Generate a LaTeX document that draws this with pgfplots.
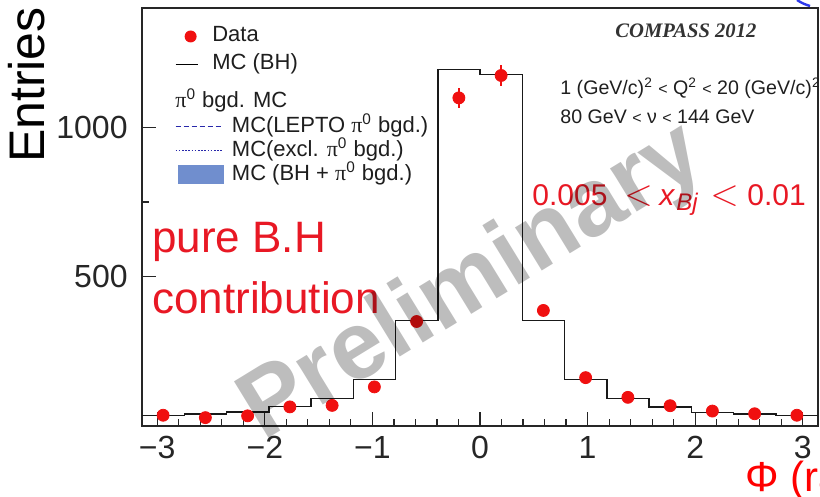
\documentclass[border=0pt]{standalone}
\usepackage{pgfplots}
\pgfplotsset{compat=1.18}
\usepackage{fontspec}
\setmainfont{Liberation Sans}
\newfontfamily\serif{Liberation Serif}
\definecolor{dred}{RGB}{240,16,16}
\definecolor{tred}{RGB}{232,24,36}
\definecolor{lblue}{RGB}{40,40,170}
\definecolor{fblue}{RGB}{112,142,206}
\definecolor{txt}{RGB}{30,30,30}
\newcommand{\piz}{{\serif π}\textsuperscript{0}}
\newcommand{\lt}{\scalebox{1.3}[1.3]{$<$}}

\begin{document}
\begin{tikzpicture}
\useasboundingbox (0pt,0pt) rectangle (410pt,-248.5pt);
\begin{scope}
\clip (0pt,0pt) rectangle (410pt,-248.5pt);
\begin{axis}[
  at={(71pt,-213pt)}, anchor=south west,
  width=338pt, height=209pt, scale only axis,
  xmin=-3.14159, xmax=3.14159, ymin=0, ymax=1400,
  axis line style={line width=0.75pt, black!85},
  tick pos=left, tick align=inside,
  xtick={-3,-2,-1,0,1,2,3},
  xticklabels={−3,−2,−1,0,1,2,3},
  ytick={500,1000}, yticklabels={500,1000},
  minor x tick num=4, minor y tick num=1,
  major tick length=7pt, minor tick length=3.5pt,
  tick style={line width=0.6pt, black!85},
  ticklabel style={font=\fontsize{16}{16}\selectfont, text=black!85},
  xticklabel style={inner sep=0pt, yshift=-5pt, anchor=north},
  yticklabel style={inner sep=0pt, xshift=-7pt, anchor=east},
  legend cell align=left,
  legend style={at={(axis description cs:0.0487,0.957)}, anchor=north west,
    draw=none, fill=none, inner sep=0pt, outer sep=0pt,
    font=\fontsize{11}{11}\selectfont, text=txt,
    row sep=3.5pt, column sep=7pt,
    nodes={inner sep=0pt, text height=8pt, text depth=2.5pt}},
]
\addlegendimage{legend image code/.code={\path[draw=none, fill=none] (0pt,0pt) -- (11pt,0pt); \fill[dred, draw=none] (7.5pt,0pt) circle (3pt);}}
\addlegendentry{Data}
\addlegendimage{legend image code/.code={\draw[black, line width=0.7pt] (0pt,0pt) -- (11pt,0pt);}}
\addlegendentry{MC (BH)}

% MC (BH) histogram, bin edges -pi ... pi (16 bins)
\addplot[black!90, line width=0.75pt, const plot, forget plot] coordinates {
(-3.14159,36) (-2.74889,41) (-2.35619,47) (-1.96350,65) (-1.57080,92)
(-1.17810,156) (-0.78540,354) (-0.39270,1194) (0,1177) (0.39270,354)
(0.78540,156) (1.17810,92) (1.57080,64) (1.96350,46) (2.35619,40)
(2.74889,35) (3.14159,35)};

% Data
\addplot[only marks, mark=*, mark size=3pt, color=dred, forget plot,
  error bars/.cd, y dir=both, y explicit, error mark=none,
  error bar style={line width=0.8pt, dred}]
  table[x=x, y=y, y error=e] {
x y e
-2.94524 36 6
-2.55254 28 5
-2.15984 34 6
-1.76715 64 8
-1.37445 69 8
-0.98175 131 11
-0.58905 350 19
-0.19635 1099 33
0.19635 1174 34
0.58905 387 20
0.98175 162 13
1.37445 96 10
1.76715 68 8
2.15984 50 7
2.55254 41 6
2.94524 36 6
};
\end{axis}

% second legend (pi0 background MC)
\begin{axis}[
  at={(71pt,-213pt)}, anchor=south west,
  width=338pt, height=209pt, scale only axis,
  xmin=0, xmax=1, ymin=0, ymax=1, hide axis,
  legend cell align=left,
  legend style={at={(axis description cs:0.0487,0.7416)}, anchor=north west,
    draw=none, fill=none, inner sep=0pt, outer sep=0pt,
    font=\fontsize{11}{11}\selectfont, text=txt,
    row sep=1.5pt, column sep=4pt,
    nodes={inner sep=0pt, text height=8pt, text depth=2.5pt}},
]
\addlegendimage{legend image code/.code={\draw[lblue, line width=0.6pt, dash pattern=on 2.5pt off 1.5pt] (0pt,0pt) -- (23.5pt,0pt);}}
\addlegendentry{MC(LEPTO \piz{} bgd.)}
\addlegendimage{legend image code/.code={\draw[lblue, line width=0.6pt, dash pattern=on 0.8pt off 0.8pt] (0pt,0pt) -- (23.5pt,0pt);}}
\addlegendentry{MC(excl. \piz{} bgd.)}
\addlegendimage{legend image code/.code={\fill[fblue] (1.5pt,-4.5pt) rectangle (24pt,4.5pt);}}
\addlegendentry{MC (BH + \piz{} bgd.)}
\end{axis}

\begin{scope}[x=0.5pt, y=-0.5pt]
\node[anchor=west, inner sep=0pt, font=\fontsize{11}{11}\selectfont, text=txt] at (175,100) {\piz{} bgd. MC};
\node[rotate=90, inner sep=0pt, font=\fontsize{25}{25}\selectfont] at (27,85) {Entries};
\node[anchor=base west, inner sep=0pt, font={\serif\bfseries\itshape\fontsize{10.3}{10.3}\selectfont}, text=black!80] at (615,38) {COMPASS 2012};
\node[anchor=base west, inner sep=0pt, font=\fontsize{9.8}{10}\selectfont, text=txt] at (560,95) {1 (GeV/c)\textsuperscript{2} {\fontsize{8}{8}\selectfont<} Q\textsuperscript{2} {\fontsize{8}{8}\selectfont<} 20 (GeV/c)\textsuperscript{2}};
\node[anchor=base west, inner sep=0pt, font=\fontsize{9.8}{10}\selectfont, text=txt] at (560,124) {80 GeV {\fontsize{8}{8}\selectfont<} ν {\fontsize{8}{8}\selectfont<} 144 GeV};
% 0.005 < x_Bj < 0.01
\begin{scope}[every node/.style={inner sep=0pt, text=tred, font=\fontsize{15}{15}\selectfont}]
\node[anchor=base west] at (532,206) {0.005};
\node[anchor=base west] at (624,206) {\lt};
\node[anchor=base west] at (659,206) {\textit{x}};
\node[anchor=base west, font=\fontsize{12}{12}\selectfont\itshape] at (676,211) {Bj};
\node[anchor=base west] at (710,206) {\lt};
\node[anchor=base west] at (747,206) {0.01};
\end{scope}
\node[anchor=base west, inner sep=0pt, font=\fontsize{22}{22}\selectfont, text=tred] at (152,253) {pure B.H};
\node[anchor=base west, inner sep=0pt, font=\fontsize{22}{22}\selectfont, text=tred] at (152,314) {contribution};
\node[anchor=base west, inner sep=0pt, font=\fontsize{21}{21}\selectfont, text=red] at (745,491) {Φ (rad)};
\draw[blue!60!fblue, line width=1.2pt] (797,0) to[bend right=8] (810,6);
\node[rotate=31.5, inner sep=0pt, font=\bfseries\fontsize{48}{48}\selectfont, text=black, text opacity=0.26] at (473,284) {Preliminary};
\end{scope}
\end{scope}
\end{tikzpicture}
\end{document}
